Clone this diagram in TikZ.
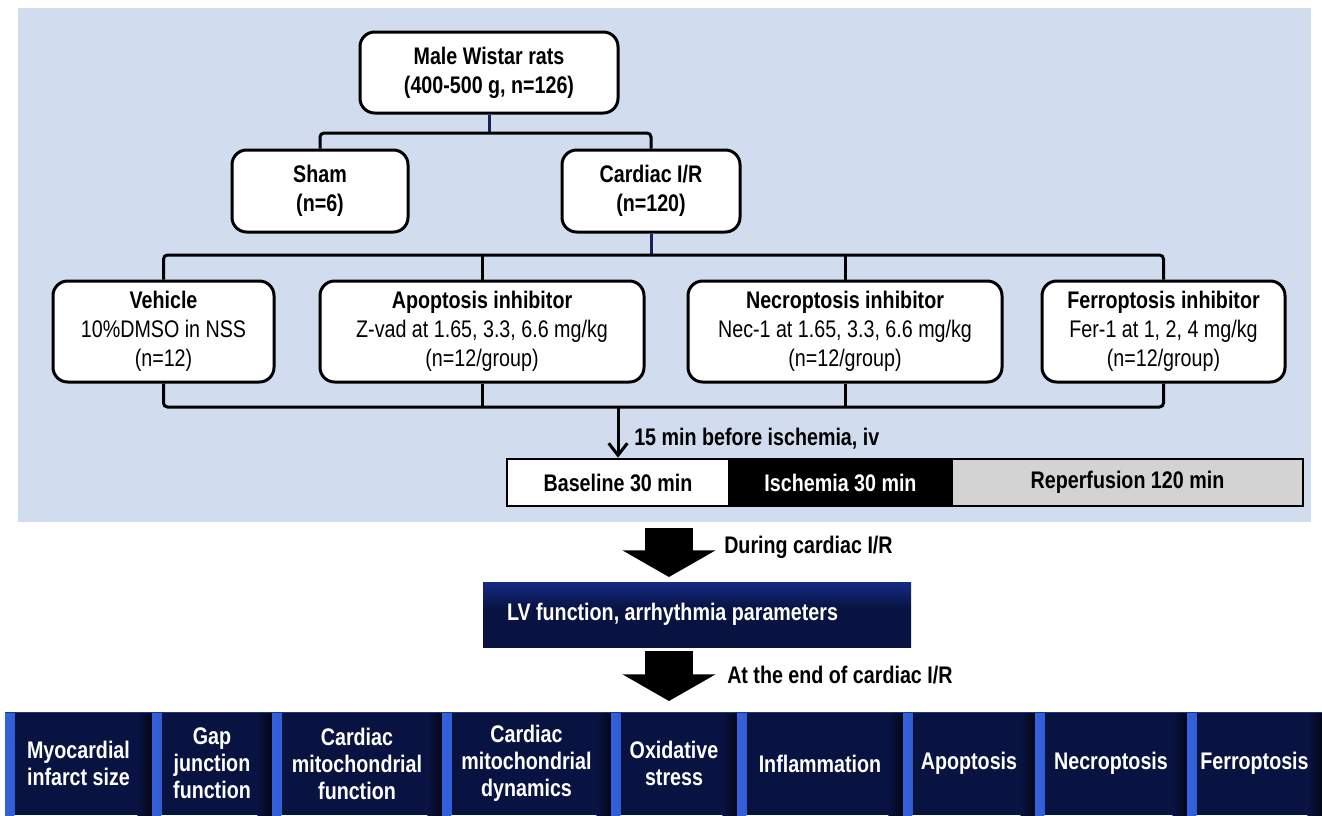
\documentclass[tikz,border=0pt]{standalone}
\usepackage{fontspec}
\setmainfont{Liberation Sans}[FakeStretch=0.82]
\usetikzlibrary{arrows.meta,calc}

\definecolor{panelblue}{RGB}{209,220,238}
\definecolor{busnavy}{RGB}{22,34,92}
\definecolor{boxnavy}{RGB}{9,19,66}
\definecolor{lvmid}{RGB}{22,50,150}
\definecolor{bevelblue}{RGB}{52,98,222}
\definecolor{bevelshade}{RGB}{3,6,22}
\definecolor{phasegray}{RGB}{211,211,211}

\pgfdeclareverticalshading{lvshade}{100bp}{color(0bp)=(boxnavy); color(55bp)=(boxnavy); color(80bp)=(lvmid); color(100bp)=(bevelblue)}

\newcommand{\diagfont}{\fontsize{18}{21.75}\selectfont}
\newcommand{\cellfont}{\fontsize{18}{20.25}\selectfont}

\tikzset{
  groupbox/.style={draw=black, line width=2.25pt, rounded corners=11pt, fill=white,
    align=center, inner sep=0pt, font=\diagfont},
  bus/.style={line width=2.25pt, rounded corners=3pt},
  phase/.style={draw=black, line width=2pt, minimum height=35.25pt, inner sep=0pt,
    font=\diagfont\bfseries},
  note/.style={anchor=west, inner sep=0pt, font=\diagfont\bfseries},
  bigarrow/.style={line width=36pt, -{Triangle[length=20pt,width=69pt]}},
  lvbox/.style={shading=lvshade, text=white, font=\diagfont\bfseries, align=flush left,
    inner xsep=18pt, inner ysep=0pt},
  outcome/.style={fill=boxnavy, text=white, font=\cellfont\bfseries, align=center,
    minimum height=77.25pt, inner sep=0pt,
    path picture={
      \shade[left color=bevelblue, right color=boxnavy]
        (path picture bounding box.north west) rectangle
        ([xshift=7pt]path picture bounding box.south west);
      \shade[left color=boxnavy, right color=bevelshade]
        ([xshift=-11pt]path picture bounding box.north east) rectangle
        (path picture bounding box.south east);
      \draw[bevelblue!45!boxnavy, line width=2pt]
        (path picture bounding box.north west) -- (path picture bounding box.north east);
    }}
}

\begin{document}
\begin{tikzpicture}[x=0.75pt,y=0.75pt,yscale=-1,xscale=1]
\useasboundingbox (0,0) rectangle (1322,815);

%Shape: Rectangle [panel]
\fill[panelblue] (18,8) rectangle (1311,522);

% Text Node
\node[groupbox, minimum width=193.5pt, minimum height=60.75pt, font=\diagfont\bfseries] (rats) at (489,72.5) {Male Wistar rats\\(400-500 g, n=126)};
% Text Node
\node[groupbox, minimum width=132pt, minimum height=61.5pt, font=\diagfont\bfseries] (sham) at (320,191) {Sham\\(n=6)};
% Text Node
\node[groupbox, minimum width=133.5pt, minimum height=61.5pt, font=\diagfont\bfseries] (cir) at (651,191) {Cardiac I/R\\(n=120)};

% Text Node
\node[groupbox, minimum width=165.75pt, minimum height=75.75pt] (vehicle) at (163.5,331.5) {\textbf{Vehicle}\\10\%DMSO in NSS\\(n=12)};
% Text Node
\node[groupbox, minimum width=243pt, minimum height=75.75pt] (apop) at (482,331.5) {\textbf{Apoptosis inhibitor}\\Z-vad at 1.65, 3.3, 6.6 mg/kg\\(n=12/group)};
% Text Node
\node[groupbox, minimum width=235.5pt, minimum height=75.75pt] (necro) at (845,331.5) {\textbf{Necroptosis inhibitor}\\Nec-1 at 1.65, 3.3, 6.6 mg/kg\\(n=12/group)};
% Text Node
\node[groupbox, minimum width=182.25pt, minimum height=75.75pt] (ferro) at (1163.5,331.5) {\textbf{Ferroptosis inhibitor}\\Fer-1 at 1, 2, 4 mg/kg\\(n=12/group)};

% Time line
\node[phase, fill=white, minimum width=166.5pt] (base) at (618,482.5) {Baseline 30 min};
\node[phase, fill=black, text=white, minimum width=167.25pt] (isch) at (840.5,482.5) {Ischemia 30 min};
\node[phase, fill=phasegray, minimum width=263.25pt] (reper) at (1127.5,482.5) {Reperfusion 120 min};

% Connection
\coordinate (hub1) at (489,133);
\draw[bus, busnavy] (rats.south) -- (hub1);
\draw[bus] (sham.north) |- (hub1) -| (cir.north);

% Connection
\coordinate (hub2) at (651,255);
\draw[bus, busnavy] (cir.south) -- (hub2);
\draw[bus] (vehicle.north) |- (hub2) -| (ferro.north);
\draw[bus] (apop.north) -- (apop.north |- hub2);
\draw[bus] (necro.north) -- (necro.north |- hub2);

% Connection
\coordinate (hub3) at (618,407);
\draw[bus] (vehicle.south) |- (hub3) -| (ferro.south);
\draw[bus] (apop.south) -- (apop.south |- hub3);
\draw[bus] (necro.south) -- (necro.south |- hub3);
\draw[bus, -{Straight Barb[length=9pt,width=14pt]}] (hub3) -- (base.north);
\node[note] (inj) at (634,439) {15 min before ischemia, iv};

% Big arrow
\coordinate (a1s) at (669,528);
\coordinate (a1e) at (669,577);
\draw[bigarrow] (a1s) -- (a1e);
\node[note] (during) at (724,547) {During cardiac I/R};

% Text Node
\node[lvbox, minimum width=321pt, minimum height=48.75pt, text width=285pt] (lv) at (697,614.5) {LV function, arrhythmia parameters};

% Big arrow
\coordinate (a2s) at (669,651);
\coordinate (a2e) at (669,701);
\draw[bigarrow] (a2s) -- (a2e);
\node[note] (atend) at (727,675) {At the end of cardiac I/R};

% Outcome row
\node[outcome, minimum width=110.25pt] (infarct) at (78.5,763.5) {Myocardial\\infarct size};
\node[outcome, minimum width=90pt] (gap) at (212,763.5) {Gap\\junction\\function};
\node[outcome, minimum width=127.5pt] (mitofn) at (357,763.5) {Cardiac\\mitochondrial\\function};
\node[outcome, minimum width=126.75pt] (mitodyn) at (526.5,763.5) {Cardiac\\mitochondrial\\dynamics};
\node[outcome, minimum width=94.5pt] (oxid) at (674,763.5) {Oxidative\\stress};
\node[outcome, minimum width=124.5pt] (inflam) at (820,763.5) {Inflammation};
\node[outcome, minimum width=99pt] (apopt) at (969,763.5) {Apoptosis};
\node[outcome, minimum width=114pt] (necrot) at (1111,763.5) {Necroptosis};
\node[outcome, minimum width=101.25pt] (ferrot) at (1254.5,763.5) {Ferroptosis};

\end{tikzpicture}
\end{document}
